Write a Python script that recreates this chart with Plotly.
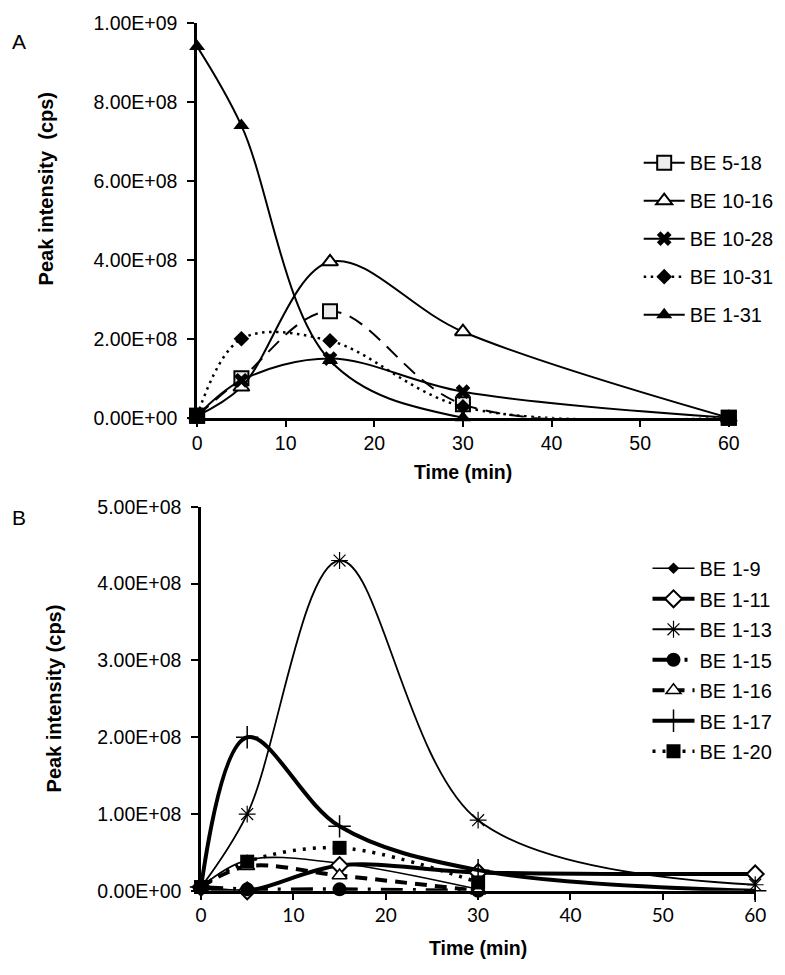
import plotly.graph_objects as go

# the page body has an 8px default margin: every pixel position below is a
# page pixel and gets shifted back by that margin. The figure is a bit wider
# than the window so plotly does not squeeze the legends.
W, H = 815, 975
OFF = 8

# --- data -------------------------------------------------------------
time_min = [0, 5, 15, 30, 60]

# panel A
be_5_18 = [5e6, 1.0e8, 2.7e8, 3.4e7, 0]
be_10_16 = [5e6, 7.8e7, 3.95e8, 2.18e8, 0]
be_10_28 = [5e6, 9.5e7, 1.5e8, 6.6e7, 0]
be_10_31 = [5e6, 2.0e8, 1.95e8, 2.8e7, 0]
be_1_31 = [9.4e8, 7.4e8, 1.45e8, 0, 0]

# panel B
be_1_9 = [5e6, 4.0e7, 3.6e7, 2e6, None]
be_1_11 = [5e6, 0, 3.3e7, 2.4e7, 2.2e7]
be_1_13 = [5e6, 1.0e8, 4.3e8, 9.2e7, 8e6]
be_1_15 = [5e6, 2e6, 2e6, 0, None]
be_1_16 = [5e6, 3.2e7, 2.0e7, 0, None]
be_1_17 = [5e6, 2.0e8, 8.4e7, 2.7e7, 0]
be_1_20 = [5e6, 3.8e7, 5.6e7, 1.1e7, None]

x_ticks = [0, 10, 20, 30, 40, 50, 60]
y_ticks_a = [0, 2e8, 4e8, 6e8, 8e8, 1e9]
y_labels_a = ["0.00E+00", "2.00E+08", "4.00E+08", "6.00E+08", "8.00E+08", "1.00E+09"]
y_ticks_b = [0, 1e8, 2e8, 3e8, 4e8, 5e8]
y_labels_b = ["0.00E+00", "1.00E+08", "2.00E+08", "3.00E+08", "4.00E+08", "5.00E+08"]

FONT = "Liberation Sans, Arial, sans-serif"


def px_x(p):
    return (p - OFF) / W


def px_y(p):
    return 1 - (p - OFF) / H


fig = go.Figure()


def add(name, x, y, axis, legend, line, marker, show=True):
    fig.add_trace(
        go.Scatter(
            x=x,
            y=y,
            name=name,
            mode="lines+markers",
            line=dict(shape="spline", smoothing=1, **line),
            marker=marker,
            xaxis="x" if axis == 1 else "x2",
            yaxis="y" if axis == 1 else "y2",
            legend=legend,
            legendgroup=name,
            showlegend=show,
            cliponaxis=False,
        )
    )


# panel A
sq_518 = dict(symbol="square", size=14, color="#ececec", line=dict(color="black", width=2))
add("BE 5-18", time_min, be_5_18, 1, "legend",
    dict(color="black", width=2, dash="15px,9px"), sq_518, show=False)
# legend entry for BE 5-18 is drawn with a solid line in the original
add("BE 5-18", [None], [None], 1, "legend", dict(color="black", width=2), sq_518)
add("BE 10-16", time_min, be_10_16, 1, "legend",
    dict(color="black", width=2),
    dict(symbol="triangle-up", size=14, color="white", line=dict(color="black", width=2)))
add("BE 10-28", time_min, be_10_28, 1, "legend",
    dict(color="black", width=2),
    dict(symbol="x", size=13, color="black", line=dict(color="black", width=0)))
add("BE 10-31", time_min, be_10_31, 1, "legend",
    dict(color="black", width=2.5, dash="2.5px,4.5px"),
    dict(symbol="diamond", size=12, color="black"))
add("BE 1-31", time_min, be_1_31, 1, "legend",
    dict(color="black", width=2),
    dict(symbol="triangle-up", size=14, color="black"))
# overlapping markers at the first and last time point show up as a black square
ends = [0, -1]
fig.add_trace(
    go.Scatter(
        x=[time_min[i] for i in ends],
        y=[be_5_18[i] for i in ends],
        mode="markers",
        marker=dict(symbol="square", size=16, color="black"),
        showlegend=False,
        cliponaxis=False,
    )
)

# panel B
add("BE 1-9", time_min, be_1_9, 2, "legend2",
    dict(color="black", width=1.6),
    dict(symbol="diamond", size=9, color="black"))
add("BE 1-11", time_min, be_1_11, 2, "legend2",
    dict(color="black", width=4),
    dict(symbol="diamond", size=13, color="white", line=dict(color="black", width=2)))
add("BE 1-13", time_min, be_1_13, 2, "legend2",
    dict(color="black", width=1.8),
    dict(symbol="asterisk-open", size=14, color="black", line=dict(color="black", width=1.2)))
add("BE 1-15", time_min, be_1_15, 2, "legend2",
    dict(color="black", width=4, dash="22px,10px,3px,10px"),
    dict(symbol="circle", size=14, color="black"))
add("BE 1-16", time_min, be_1_16, 2, "legend2",
    dict(color="black", width=4, dash="12px,8px"),
    dict(symbol="triangle-up", size=13, color="white", line=dict(color="black", width=1.5)))
add("BE 1-17", time_min, be_1_17, 2, "legend2",
    dict(color="black", width=4),
    dict(symbol="cross-thin-open", size=16, color="black", line=dict(color="black", width=1.5)))
add("BE 1-20", time_min, be_1_20, 2, "legend2",
    dict(color="black", width=3.5, dash="3px,7px"),
    dict(symbol="square", size=14, color="black"))

axis_common = dict(
    showgrid=False,
    zeroline=False,
    showline=True,
    linecolor="black",
    linewidth=2.5,
    ticks="outside",
    tickcolor="black",
    tickwidth=2,
    fixedrange=True,
)

fig.update_layout(
    width=W,
    height=H,
    margin=dict(l=0, r=0, t=0, b=0),
    paper_bgcolor="white",
    plot_bgcolor="white",
    font=dict(family=FONT, color="black", size=19),
    xaxis=dict(
        domain=[px_x(195), px_x(738)], range=[0, 60], anchor="y",
        tickvals=x_ticks, ticklen=6, tickfont=dict(size=19.5),
        **axis_common,
    ),
    yaxis=dict(
        domain=[px_y(416), px_y(12)], range=[0, 1e9], anchor="x",
        tickvals=y_ticks_a, ticktext=y_labels_a, ticklen=7,
        tickfont=dict(size=19.5), ticklabelstandoff=6,
        **axis_common,
    ),
    xaxis2=dict(
        domain=[px_x(199), px_x(765)], range=[0, 60], anchor="y2",
        tickvals=x_ticks, ticklen=6, tickfont=dict(size=19, family="Lato, sans-serif"),
        **axis_common,
    ),
    yaxis2=dict(
        domain=[px_y(900), px_y(507)], range=[0, 5e8], anchor="x2",
        tickvals=y_ticks_b, ticktext=y_labels_b, ticklen=7,
        tickfont=dict(size=19.5), ticklabelstandoff=6,
        **axis_common,
    ),
    legend=dict(
        x=px_x(646), y=px_y(135), xanchor="left", yanchor="top",
        font=dict(size=20), tracegroupgap=9, itemwidth=41,
        bgcolor="rgba(0,0,0,0)",
    ),
    legend2=dict(
        x=px_x(655), y=px_y(550), xanchor="left", yanchor="top",
        font=dict(size=20), tracegroupgap=1.5, itemwidth=42,
        bgcolor="rgba(0,0,0,0)",
    ),
    showlegend=True,
)

# panel letters and axis titles
notes = [
    ("A", 13, 31, 21, False, 0),
    ("B", 13, 518, 21, False, 0),
    ("Peak intensity\u00a0\u00a0(cps)", 41, 182, 20, True, -90),
    ("Peak intensity (cps)", 49, 703, 20, True, -90),
    ("Time (min)", 467, 471, 19.5, True, 0),
    ("Time (min)", 482, 958, 19.5, True, 0),
]
for text, x, y, size, bold, ang in notes:
    fig.add_annotation(
        text=f"<b>{text}</b>" if bold else text,
        x=px_x(x), y=px_y(y), xref="paper", yref="paper",
        xanchor="center", yanchor="middle", showarrow=False,
        textangle=ang, font=dict(size=size, family=FONT, color="black"),
    )

fig.write_html("out.html")
